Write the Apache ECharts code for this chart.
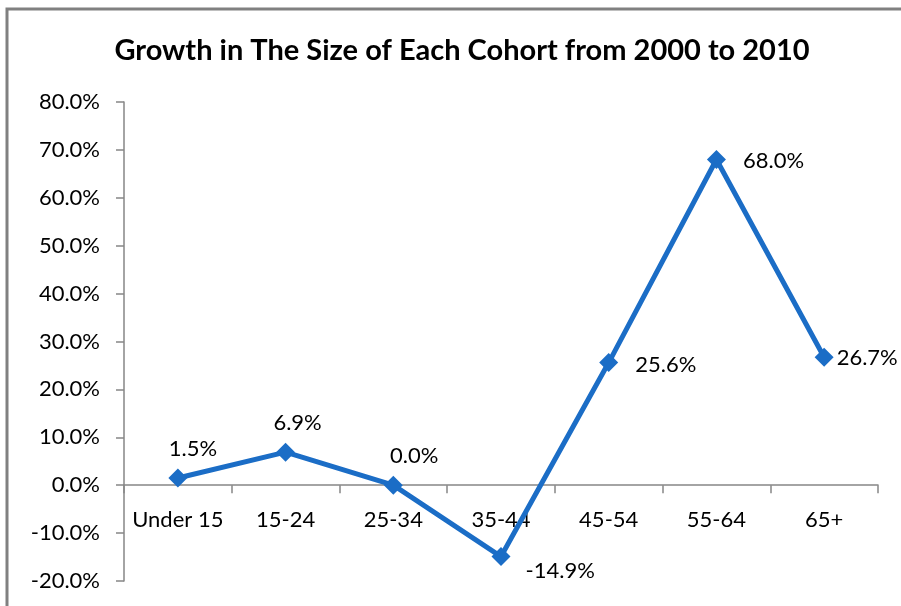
<!DOCTYPE html>
<html>
<head>
<meta charset="utf-8">
<script src="https://cdn.jsdelivr.net/npm/echarts@6/dist/echarts.min.js"></script>
<style>
  html, body { margin: 0; padding: 0; background: #fff; }
  #chart { width: 901px; height: 606px; }
</style>
</head>
<body>
<div id="chart"></div>
<script>
// cohorts and growth (%) 2000 -> 2010
const cohorts = ['Under 15', '15-24', '25-34', '35-44', '45-54', '55-64', '65+']
const growth = [1.5, 6.9, 0.0, -14.9, 25.6, 68.0, 26.7]
const yTicks = { min: -20, max: 80, step: 10 }

// where each value label sits relative to its point
const labelPlace = [
  { position: 'top', offset: [15, -4] },
  { position: 'top', offset: [12, -4] },
  { position: 'top', offset: [21, -4] },
  { position: 'right', offset: [10, 14] },
  { position: 'right', offset: [12, 2] },
  { position: 'right', offset: [12, 1] },
  { position: 'right', offset: [-2, 1] }
]

const font = 'Lato, "Open Sans", "Noto Sans", sans-serif'
const axisGray = '#868686'
const blue = '#1b6dc6'

const chart = echarts.init(document.getElementById('chart'))

chart.setOption({
  backgroundColor: '#fff',
  animation: false,
  textStyle: { fontFamily: font },
  title: {
    text: 'Growth in The Size of Each Cohort from 2000 to 2010',
    left: 457,
    top: 31,
    textAlign: 'center',
    textStyle: { fontSize: 29, fontWeight: 'bold', color: '#000', fontFamily: font }
  },
  graphic: [{
    type: 'rect',
    shape: { x: 7, y: 9, width: 1000, height: 1000 },
    style: { fill: 'none', stroke: '#808080', lineWidth: 3 }
  }],
  grid: { left: 124, right: 23, top: 102, bottom: 25, outerBoundsMode: 'none', containLabel: false },
  xAxis: {
    type: 'category',
    data: cohorts,
    boundaryGap: true,
    axisLine: { onZero: true, lineStyle: { color: axisGray, width: 1.5 } },
    axisTick: { show: true, interval: 0, length: 8, lineStyle: { color: axisGray, width: 1.5 } },
    // labels are laid out from the grid bottom, so pull them up under the zero line
    axisLabel: { interval: 0, margin: -72, fontSize: 22, color: '#000', fontFamily: font },
    splitLine: { show: false }
  },
  yAxis: {
    type: 'value',
    min: yTicks.min,
    max: yTicks.max,
    interval: yTicks.step,
    axisLine: { show: true, lineStyle: { color: axisGray, width: 1.5 } },
    axisTick: { show: true, length: 8, lineStyle: { color: axisGray, width: 1.5 } },
    axisLabel: {
      margin: 24,
      fontSize: 22,
      color: '#000',
      fontFamily: font,
      formatter: v => v.toFixed(1) + '%'
    },
    splitLine: { show: false }
  },
  series: [{
    type: 'line',
    data: growth.map((v, i) => ({
      value: v,
      label: {
        show: true,
        position: labelPlace[i].position,
        offset: labelPlace[i].offset
      }
    })),
    symbol: 'diamond',
    symbolSize: 19,
    lineStyle: { color: blue, width: 5 },
    itemStyle: { color: blue },
    label: {
      fontSize: 22,
      color: '#000',
      fontFamily: font,
      formatter: p => p.value.toFixed(1) + '%'
    }
  }]
})
</script>
</body>
</html>
